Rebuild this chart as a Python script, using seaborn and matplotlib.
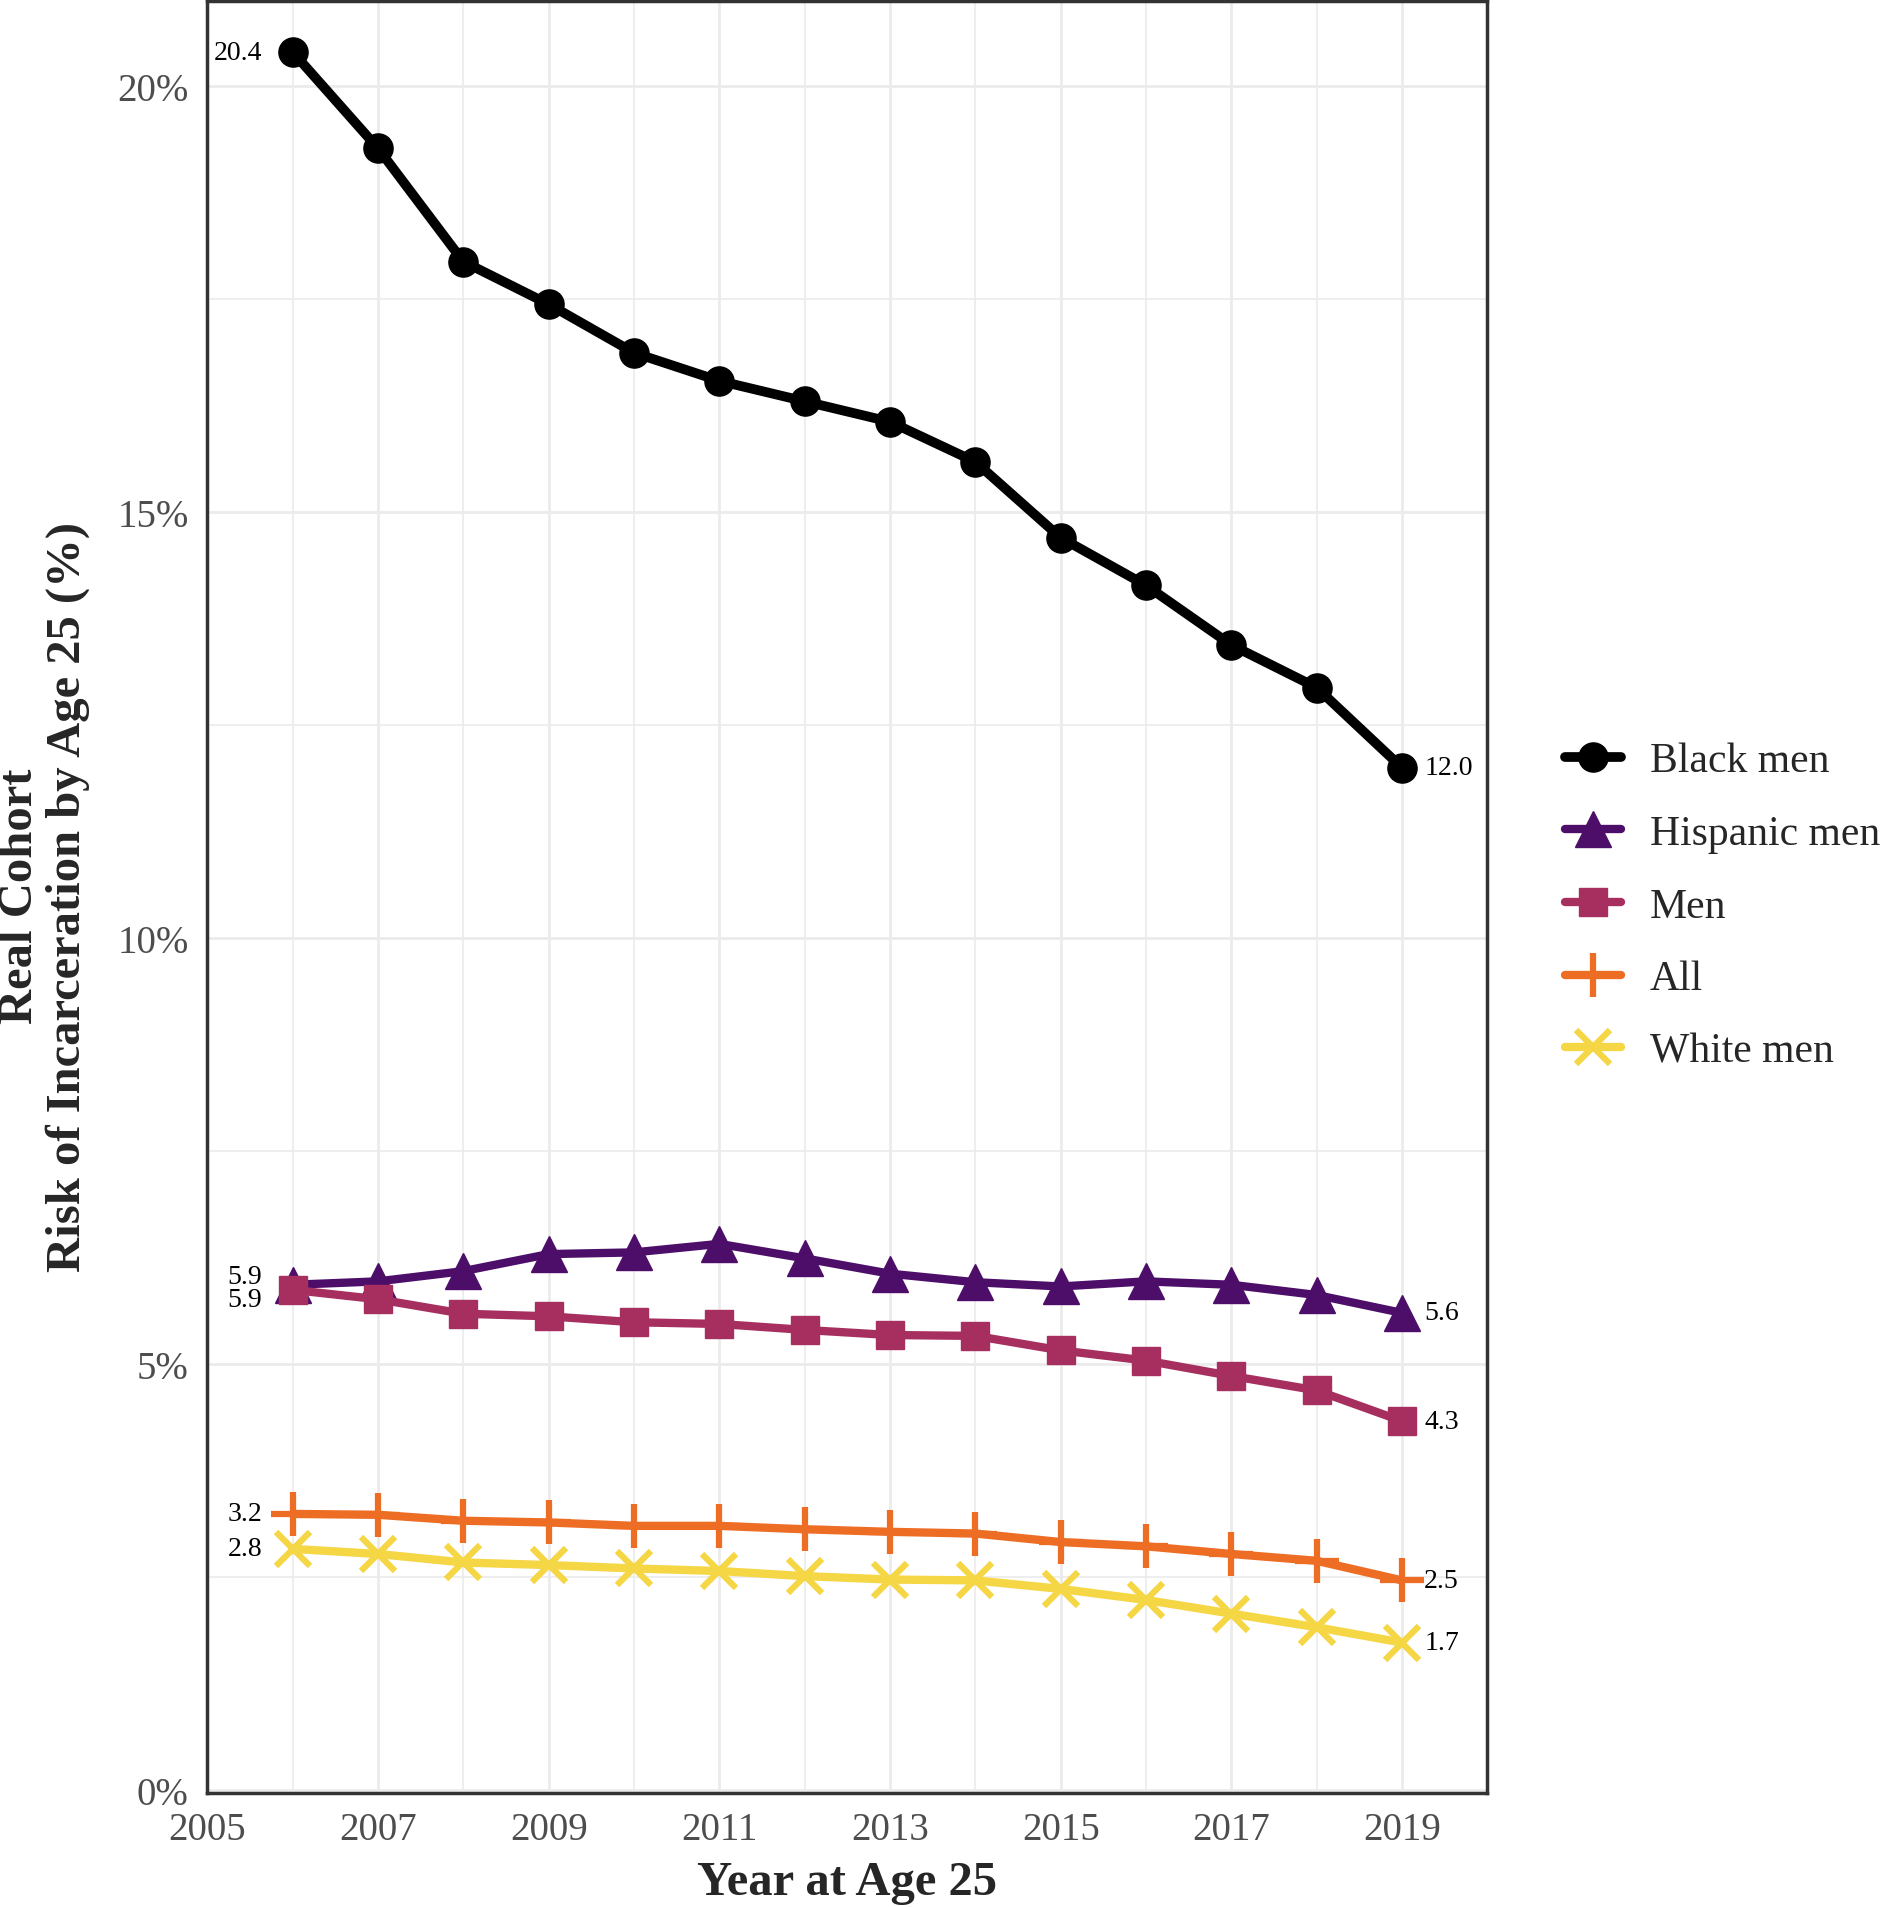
import numpy as np
import pandas as pd
import matplotlib
matplotlib.use("Agg")
import matplotlib.pyplot as plt
import seaborn as sns

years = list(range(2006, 2020))
black_men = [20.4, 19.27, 17.94, 17.44, 16.87, 16.54, 16.30, 16.06, 15.59, 14.70, 14.14, 13.44, 12.94, 12.0]
hispanic_men = [5.93, 5.97, 6.09, 6.29, 6.31, 6.41, 6.24, 6.06, 5.96, 5.91, 5.97, 5.93, 5.81, 5.6]
men = [5.87, 5.76, 5.59, 5.56, 5.49, 5.47, 5.40, 5.34, 5.33, 5.16, 5.04, 4.86, 4.69, 4.33]
all_people = [3.24, 3.23, 3.16, 3.14, 3.10, 3.10, 3.06, 3.03, 3.01, 2.91, 2.86, 2.77, 2.69, 2.46]
white_men = [2.83, 2.77, 2.67, 2.64, 2.60, 2.57, 2.51, 2.47, 2.46, 2.36, 2.23, 2.07, 1.91, 1.73]

series_names = ["Black men", "Hispanic men", "Men", "All", "White men"]
series_values = [black_men, hispanic_men, men, all_people, white_men]
start_labels = ["20.4", "5.9", "5.9", "3.2", "2.8"]
end_labels = ["12.0", "5.6", "4.3", "2.5", "1.7"]

x_ticks = [2005, 2007, 2009, 2011, 2013, 2015, 2017, 2019]
y_ticks = [0, 5, 10, 15, 20]
y_tick_labels = ["0%", "5%", "10%", "15%", "20%"]

colors = ["#000000", "#4D0E6A", "#A62F5F", "#EE6D25", "#F5D645"]
markers = ["o", "^", "s", "+", "x"]
msizes = [21, 26, 20, 31, 24]
mews = [1, 1, 1, 4.5, 4.5]
lws = [7.0, 6.0, 6.0, 6.0, 6.0]
start_offsets = [0, 6, -7, 0, 0]  # vertical nudge in points (repel)

df = pd.concat([pd.DataFrame({"year": years, "value": v, "group": n})
                for n, v in zip(series_names, series_values)], ignore_index=True)

sns.set_style("white")
plt.rcParams["font.family"] = ["Liberation Serif", "DejaVu Serif"]

fig = plt.figure(figsize=(18.85, 19.08), dpi=100)
ax = fig.add_axes([0.110, 0.060, 0.679, 0.939])

for i, name in enumerate(series_names):
    sub = df[df["group"] == name]
    sns.lineplot(data=sub, x="year", y="value", ax=ax, color=colors[i],
                 marker=markers[i], markersize=msizes[i], markeredgewidth=mews[i],
                 markeredgecolor=colors[i], linewidth=lws[i], label=name, zorder=3 + i)
    ax.annotate(start_labels[i], xy=(sub["year"].iloc[0], sub["value"].iloc[0]),
                xytext=(-22, start_offsets[i]), textcoords="offset points",
                ha="right", va="center", fontsize=20, color="black")
    ax.annotate(end_labels[i], xy=(sub["year"].iloc[-1], sub["value"].iloc[-1]),
                xytext=(16, 0), textcoords="offset points",
                ha="left", va="center", fontsize=20, color="black")

ax.set_xlim(2005, 2020)
ax.set_ylim(-0.03, 21.0)
ax.set_xticks(x_ticks)
ax.set_xticks(list(range(2006, 2021, 2)), minor=True)
ax.set_yticks(y_ticks)
ax.set_yticklabels(y_tick_labels)
ax.set_yticks([2.5, 7.5, 12.5, 17.5], minor=True)
ax.grid(True, which="major", color="#EBEBEB", linewidth=2.0, zorder=0)
ax.grid(True, which="minor", color="#EBEBEB", linewidth=1.2, zorder=0)
ax.set_axisbelow(True)
ax.tick_params(axis="both", which="major", labelsize=28, colors="#4D4D4D",
               length=10, width=2.5, labelcolor="#4D4D4D")
ax.tick_params(axis="both", which="minor", length=0)
for s in ax.spines.values():
    s.set_color("#333333")
    s.set_linewidth(2.5)
ax.set_xlabel("")
ax.set_ylabel("")

fig.text(0.4495, 0.013, "Year at Age 25", ha="center", va="center",
         fontsize=35, fontweight="bold")
fig.text(0.0233, 0.530, "Real Cohort\nRisk of Incarceration by Age 25 (%)",
         ha="center", va="center", rotation=90, fontsize=35, fontweight="bold",
         linespacing=1.1, multialignment="center")

handles, labels = ax.get_legend_handles_labels()
ax.legend(handles, labels, loc="center left", bbox_to_anchor=(0.830, 0.5245),
          bbox_transform=fig.transFigure, frameon=False, fontsize=30,
          handlelength=1.35, handletextpad=0.7, labelspacing=0.82, borderpad=0,
          borderaxespad=0)

fig.savefig("out.png", dpi=100)
